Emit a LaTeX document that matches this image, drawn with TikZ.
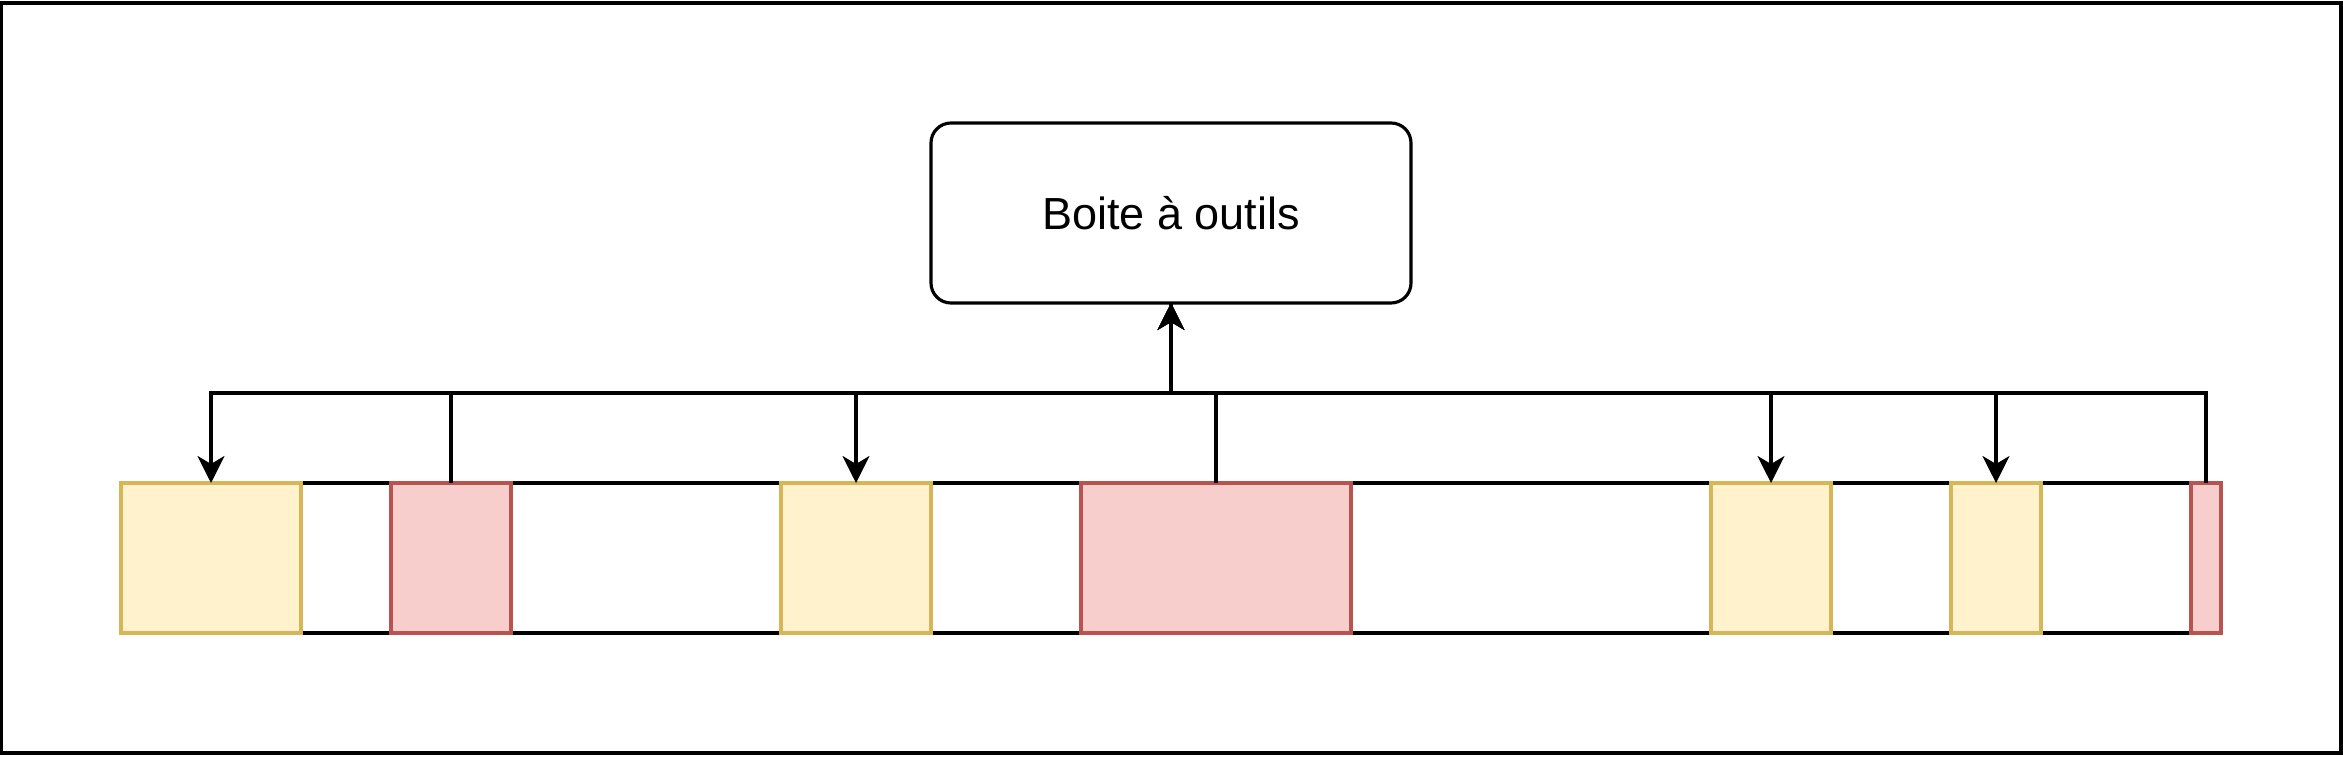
\documentclass[tikz,border=0pt]{standalone}
\usepackage{fontspec}
\setmainfont{Liberation Sans}
\usetikzlibrary{arrows.meta}
\definecolor{jaunefond}{HTML}{FFF2CC}
\definecolor{jaunebord}{HTML}{D6B656}
\definecolor{rougefond}{HTML}{F8CECC}
\definecolor{rougebord}{HTML}{B85450}

\begin{document}
\begin{tikzpicture}[x=0.03cm, y=-0.03cm, line width=0.9pt,
    outil/.style={draw, outer sep=0pt, rounded corners=0.2cm, minimum width=4.8cm, minimum height=1.8cm,
      font=\fontsize{12.8}{15}\selectfont},
    jaune/.style={draw=jaunebord, fill=jaunefond, outer sep=0pt, inner sep=0pt, minimum height=1.5cm},
    rouge/.style={draw=rougebord, fill=rougefond, outer sep=0pt, inner sep=0pt, minimum height=1.5cm},
    fleche/.style={-{Stealth[length=0.27cm, width=0.27cm, inset=0.08cm]}}]
      \useasboundingbox (-0.333, -1) rectangle (780.667, 252);
      \draw (0, 0) rectangle (780, 250);

      \node[outil] (outils) at (390, 70) {Boite à outils};

      \draw (40, 160) rectangle (740, 210);
      \node[jaune, minimum width=1.8cm] (j1) at (70, 185) {};
      \node[rouge, minimum width=1.2cm] (r1) at (150, 185) {};
      \node[jaune, minimum width=1.5cm] (j2) at (285, 185) {};
      \node[rouge, minimum width=2.7cm] (r2) at (405, 185) {};
      \node[jaune, minimum width=1.2cm] (j3) at (590, 185) {};
      \node[jaune, minimum width=0.9cm] (j4) at (665, 185) {};
      \node[rouge, minimum width=0.3cm] (r3) at (735, 185) {};

      \draw[fleche] (r1.north) -- ++(0, -30) -| (outils.south);
      \draw[fleche] (r2.north) -- ++(0, -30) -| (outils.south);
      \draw[fleche] (r3.north) -- ++(0, -30) -| (outils.south);

      \draw[fleche] (outils.south) -- ++(0, 30) -| (j1.north);
      \draw[fleche] (outils.south) -- ++(0, 30) -| (j2.north);
      \draw[fleche] (outils.south) -- ++(0, 30) -| (j3.north);
      \draw[fleche] (outils.south) -- ++(0, 30) -| (j4.north);
  \end{tikzpicture}
\end{document}
